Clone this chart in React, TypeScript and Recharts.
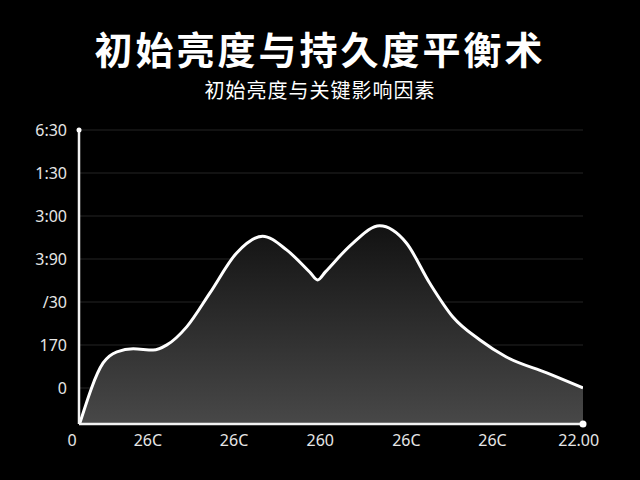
import React from 'react';
import { AreaChart, Area, XAxis, YAxis, CartesianGrid, ReferenceDot } from 'recharts';

const TITLE = '初始亮度与持久度平衡术';
const SUBTITLE = '初始亮度与关键影响因素';

const xValues = [0.21, 0.48, 0.64, 0.83, 1.06, 1.22, 1.45, 1.72, 2.03, 2.33, 2.61, 2.88, 2.97, 3.06, 3.38, 3.69, 4.0, 4.27, 4.54, 4.85, 5.16, 5.63, 6.05];
const yValues = [-0.82, 0.58, 0.84, 0.91, 0.88, 1.0, 1.42, 2.21, 3.14, 3.53, 3.21, 2.69, 2.51, 2.70, 3.37, 3.77, 3.37, 2.44, 1.65, 1.12, 0.72, 0.35, 0.0];

const xTicks = [0.2, 1, 2, 3, 4, 5, 6];
const xTickLabels = ['0', '26C', '26C', '260', '26C', '26C', '22.00'];
const yTicks = [0, 1, 2, 3, 4, 5, 6];
const yTickLabels = ['0', '170', '/30', '3:90', '3:00', '1:30', '6:30'];

const X_MIN = 0.2;
const X_MAX = 6.05;
const Y_MIN = -0.84;
const Y_MAX = 6;

const data = xValues.map((x, i) => ({ x, y: yValues[i] }));

const FONT = '"Noto Sans", "Noto Sans CJK SC", sans-serif';

const XTick = (props: any) => {
  const { x, y, payload, index } = props;
  const dx = index === 0 ? -7 : 0;
  return (
    <text x={x + dx} y={y} dy={12} textAnchor="middle" fill="#e6e6e6" fontSize={16} fontFamily={FONT}>
      {xTickLabels[xTicks.indexOf(payload.value)]}
    </text>
  );
};

export default function App() {
  return (
    <div style={{ position: 'absolute', left: 0, top: 0, width: 640, height: 480, background: '#000', overflow: 'hidden' }}>
      <div style={{ position: 'absolute', left: 0, top: 22, width: 640, textAlign: 'center', color: '#fff', fontFamily: '"Noto Sans CJK SC", sans-serif', fontWeight: 700, fontSize: 38, letterSpacing: 3, lineHeight: '52px' }}>
        {TITLE}
      </div>
      <div style={{ position: 'absolute', left: 0, top: 76, width: 640, textAlign: 'center', color: '#fff', fontFamily: '"Noto Sans CJK SC", sans-serif', fontSize: 20, letterSpacing: 1, lineHeight: '28px' }}>
        {SUBTITLE}
      </div>
      <div style={{ position: 'absolute', left: 0, top: 0 }}>
        <AreaChart width={640} height={480} data={data} margin={{ top: 130, right: 57, bottom: 26, left: 19 }}>
          <defs>
            <linearGradient id="areaFill" x1="0" y1="0" x2="0" y2="1">
              <stop offset="0%" stopColor="#121212" />
              <stop offset="100%" stopColor="#484848" />
            </linearGradient>
          </defs>
          <CartesianGrid vertical={false} stroke="#191919" strokeWidth={1.5} />
          <XAxis
            type="number"
            dataKey="x"
            domain={[X_MIN, X_MAX]}
            ticks={xTicks}
            allowDataOverflow
            axisLine={{ stroke: '#f2f2f2', strokeWidth: 2.5 }}
            tickLine={false}
            tickSize={6}
            tickMargin={4}
            height={30}
            tick={<XTick />}
          />
          <YAxis
            type="number"
            domain={[Y_MIN, Y_MAX]}
            ticks={yTicks}
            allowDataOverflow
            width={60}
            axisLine={{ stroke: '#f2f2f2', strokeWidth: 2.5 }}
            tickLine={false}
            tickSize={6}
            tickMargin={6}
            tick={{ fill: '#e6e6e6', fontSize: 16, fontFamily: FONT }}
            tickFormatter={(v: number) => yTickLabels[yTicks.indexOf(v)]}
          />
          <Area
            type="monotone"
            dataKey="y"
            stroke="#ffffff"
            strokeWidth={3}
            fill="url(#areaFill)"
            fillOpacity={1}
            baseValue="dataMin"
            isAnimationActive={false}
            dot={false}
            activeDot={false}
          />
          <ReferenceDot x={X_MAX} y={Y_MIN} r={3.5} fill="#ffffff" stroke="none" ifOverflow="visible" />
          <ReferenceDot x={X_MIN} y={Y_MAX} r={2.5} fill="#ffffff" stroke="none" ifOverflow="visible" />
        </AreaChart>
      </div>
    </div>
  );
}
